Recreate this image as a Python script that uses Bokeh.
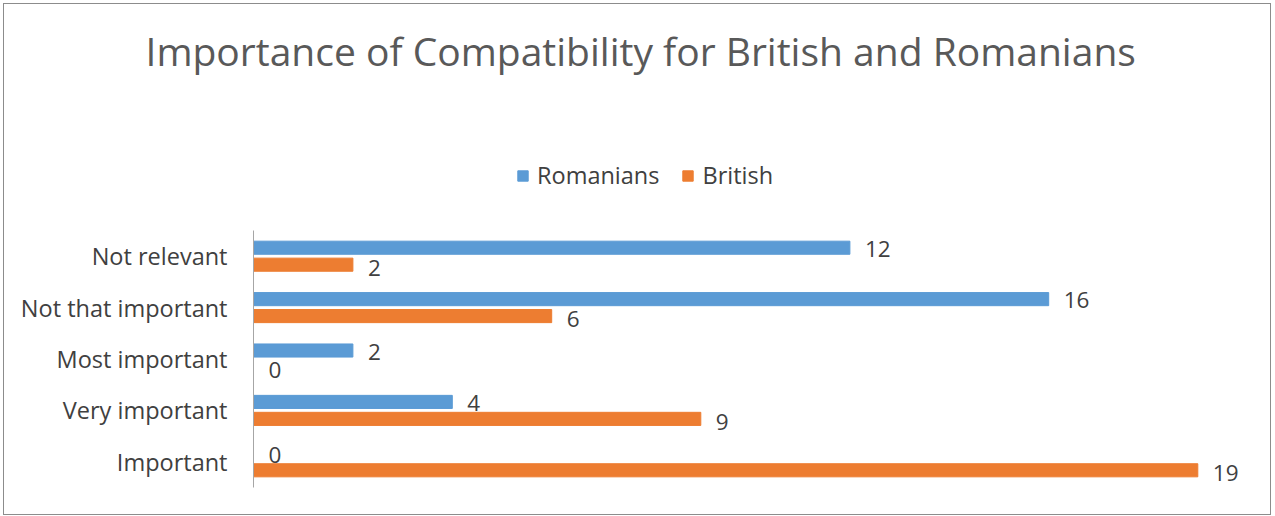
from bokeh.plotting import figure
from bokeh.models import (ColumnDataSource, Range1d, Legend, LegendItem, Title, LabelSet,
                          FixedTicker)
from bokeh.transform import dodge
from bokeh.embed import file_html
from bokeh.resources import INLINE
from bokeh.core.properties import value

categories = ["Important", "Very important", "Most important", "Not that important", "Not relevant"]
romanians = [0, 4, 2, 16, 12]
british = [19, 9, 0, 6, 2]
title_text = "Importance of Compatibility for British and Romanians"

FONT = "Open Sans"
pos = list(range(len(categories)))
src = ColumnDataSource(dict(pos=pos, cat=categories, rom=romanians, bri=british,
                            rom_t=[str(v) for v in romanians], bri_t=[str(v) for v in british]))

W, H = 1266, 510
TOP = 72
BOTTOM = 27
FRAME_H = H - TOP - BOTTOM
PITCH = 51.4
p = figure(width=W, height=H, output_backend="svg", toolbar_location=None,
           y_range=Range1d(-0.5, -0.5 + FRAME_H / PITCH),
           x_range=Range1d(0, 20),
           min_border_left=249, min_border_right=23, min_border_top=TOP, min_border_bottom=BOTTOM)
p.margin = (4, 0, 0, 4)
p.styles = {"outline": "1.5px solid #8c8c8c"}
p.outline_line_color = None
p.xgrid.visible = False
p.ygrid.visible = False
p.xaxis.visible = False

r1 = p.hbar(y=dodge("pos", 0.165), right="rom", left=0, height=0.255,
            source=src, color="#5B9BD5")
r2 = p.hbar(y=dodge("pos", -0.165), right="bri", left=0, height=0.255,
            source=src, color="#ED7D31")

p.add_layout(LabelSet(x="rom", y=dodge("pos", 0.14), text="rom_t", source=src,
                      x_offset=15, text_baseline="middle", text_font=value(FONT),
                      text_font_size="22.5px", text_color="#404040"))
p.add_layout(LabelSet(x="bri", y=dodge("pos", -0.22), text="bri_t", source=src,
                      x_offset=15, text_baseline="middle", text_font=value(FONT),
                      text_font_size="22.5px", text_color="#404040"))

ya = p.yaxis[0]
ya.ticker = FixedTicker(ticks=pos)
ya.major_label_overrides = {i: c for i, c in zip(pos, categories)}
ya.bounds = (-0.5, len(categories) - 0.5)
ya.axis_line_color = "#a6a6a6"
ya.major_tick_line_color = None
ya.minor_tick_line_color = None
ya.major_label_standoff = 20
ya.major_label_text_font = FONT
ya.major_label_text_font_size = "23.5px"
ya.major_label_text_color = "#404040"

legend = Legend(items=[LegendItem(label="Romanians", renderers=[r1]),
                       LegendItem(label="British", renderers=[r2])],
                orientation="horizontal", location=(263, 296),
                label_text_font=FONT, label_text_font_size="23.5px", label_text_color="#404040",
                glyph_width=13, glyph_height=13, spacing=22, label_standoff=8,
                background_fill_alpha=0, border_line_color=None, padding=0, margin=0)
p.add_layout(legend, "center")

p.add_layout(Title(text=title_text, align="left",
                   text_font=FONT, text_font_size="39px", text_font_style="normal",
                   text_color="#595959", standoff=0, offset=-108), "above")

open("out.html", "w").write(file_html(p, INLINE))
